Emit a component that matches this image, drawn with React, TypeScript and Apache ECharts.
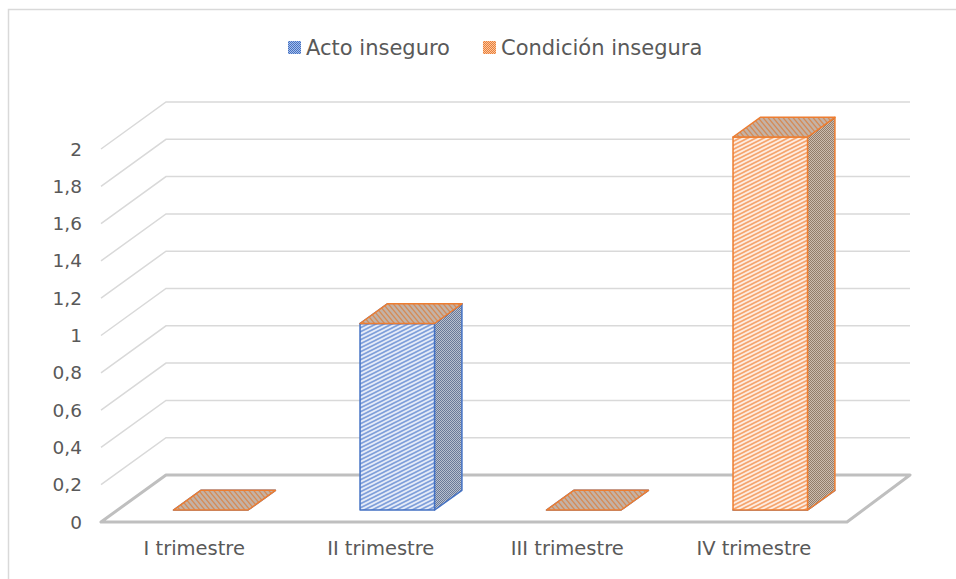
import React, { useEffect, useRef } from "react";
import * as echarts from "echarts";

const categories = ["I trimestre", "II trimestre", "III trimestre", "IV trimestre"];
const seriesNames = ["Acto inseguro", "Condición insegura"];
const actoInseguro = [0, 1, 0, 0];
const condicionInsegura = [0, 0, 0, 2];
const yTicks = [0, 0.2, 0.4, 0.6, 0.8, 1, 1.2, 1.4, 1.6, 1.8, 2];

const FONT = "'DejaVu Sans', sans-serif";
const DX = 65;
const DY = -47;
const F0 = 0.255;
const F1 = 0.675;
const HALF = 0.2;

function stripePattern(bg: string, fg: string, w: number, h: number, dir: number, lw: number) {
  const c = document.createElement("canvas");
  c.width = w;
  c.height = h;
  const ctx = c.getContext("2d")!;
  ctx.fillStyle = bg;
  ctx.fillRect(0, 0, w, h);
  ctx.strokeStyle = fg;
  ctx.lineWidth = lw;
  for (const off of [-h, 0, h]) {
    ctx.beginPath();
    if (dir > 0) {
      ctx.moveTo(-w, 2 * h + off);
      ctx.lineTo(2 * w, -h + off);
    } else {
      ctx.moveTo(-w, -h + off);
      ctx.lineTo(2 * w, 2 * h + off);
    }
    ctx.stroke();
  }
  return { image: c.toDataURL(), repeat: "repeat", imageWidth: w, imageHeight: h } as any;
}

function dotPattern(a: string, b: string) {
  const c = document.createElement("canvas");
  c.width = 2;
  c.height = 2;
  const ctx = c.getContext("2d")!;
  ctx.fillStyle = a;
  ctx.fillRect(0, 0, 2, 2);
  ctx.fillStyle = b;
  ctx.fillRect(0, 0, 1, 1);
  ctx.fillRect(1, 1, 1, 1);
  return { image: c.toDataURL(), repeat: "repeat", imageWidth: 2, imageHeight: 2 } as any;
}

export default function App() {
  const ref = useRef<HTMLDivElement>(null);

  useEffect(() => {
    if (!ref.current) return;
    const chart = echarts.init(ref.current, null, { renderer: "svg" });

    const styles = [
      {
        stroke: "#4472c4",
        front: stripePattern("#e6ecf8", "#7f9fda", 8, 4, 1, 1.7),
        side: dotPattern("#b8c0cf", "#6a7a98"),
        top: stripePattern("#c4b2a6", "#d58a55", 5, 6, -1, 1.3),
        legend: dotPattern("#4472c4", "#a9bfe8"),
      },
      {
        stroke: "#ed7d31",
        front: stripePattern("#fdede2", "#f5a46e", 8, 4, 1, 1.7),
        side: dotPattern("#cdbcaf", "#927d6b"),
        top: stripePattern("#c4b2a6", "#d58a55", 5, 6, -1, 1.3),
        legend: dotPattern("#ed7d31", "#f8c8a6"),
      },
    ];

    const values = [actoInseguro, condicionInsegura];
    const barData = values.map((arr, s) =>
      arr.map((v, i) => {
        let base = 0;
        for (let k = 0; k < s; k++) base += values[k][i];
        return [i, v, base];
      })
    );

    const makeBarRender = (s: number) => (params: any, api: any) => {
      const cat = api.value(0);
      const val = api.value(1);
      const base = api.value(2);
      const c0 = api.coord([cat, base]);
      const c1 = api.coord([cat, base + val]);
      const bw = api.size([1, 0])[0];
      const x0 = c0[0] - HALF * bw + F0 * DX;
      const x1 = c0[0] + HALF * bw + F0 * DX;
      const yb = c0[1] + F0 * DY;
      const yt = c1[1] + F0 * DY;
      const ddx = (F1 - F0) * DX;
      const ddy = (F1 - F0) * DY;
      const st = styles[s];
      const children: any[] = [];
      if (val > 0) {
        children.push({
          type: "polygon",
          shape: { points: [[x0, yb], [x1, yb], [x1, yt], [x0, yt]] },
          style: { fill: st.front, stroke: st.stroke, lineWidth: 1.5, lineJoin: "round" },
        });
        children.push({
          type: "polygon",
          shape: { points: [[x1, yb], [x1 + ddx, yb + ddy], [x1 + ddx, yt + ddy], [x1, yt]] },
          style: { fill: st.side, stroke: st.stroke, lineWidth: 1.5, lineJoin: "round" },
        });
      }
      children.push({
        type: "polygon",
        shape: { points: [[x0, yt], [x1, yt], [x1 + ddx, yt + ddy], [x0 + ddx, yt + ddy]] },
        style: { fill: st.top, stroke: st.stroke, lineWidth: 1.5, lineJoin: "round" },
      });
      return { type: "group", children };
    };

    const gridRender = (params: any, api: any) => {
      const v = api.value(1);
      const y = api.coord([0, v])[1];
      const left = params.coordSys.x;
      const right = params.coordSys.x + params.coordSys.width;
      const backRight = right + DX - 2;
      if (v === 0) {
        return {
          type: "polygon",
          shape: { points: [[left, y], [right, y], [backRight, y + DY], [left + DX, y + DY]] },
          style: { fill: "none", stroke: "#bfbfbf", lineWidth: 3, lineJoin: "round" },
        };
      }
      return {
        type: "polyline",
        shape: { points: [[left, y], [left + DX, y + DY], [backRight, y + DY]] },
        style: { fill: "none", stroke: "#d9d9d9", lineWidth: 1.5 },
      };
    };

    const option: any = {
      animation: false,
      backgroundColor: "#ffffff",
      textStyle: { fontFamily: FONT },
      graphic: [
        {
          type: "rect",
          silent: true,
          shape: { x: 8.5, y: 9.5, width: 1200, height: 1200 },
          style: { fill: "none", stroke: "#d9d9d9", lineWidth: 1.5 },
        },
      ],
      legend: {
        left: 283,
        top: 32,
        itemWidth: 13,
        itemHeight: 13,
        itemGap: 33,
        icon: "rect",
        textStyle: { fontSize: 21, color: "#595959", fontFamily: FONT },
        data: seriesNames.map((n, s) => ({ name: n, itemStyle: { color: styles[s].legend } })),
      },
      grid: { left: 101, right: 109, top: 149, bottom: 57 },
      xAxis: {
        type: "category",
        data: categories,
        axisLine: { show: false },
        axisTick: { show: false },
        splitLine: { show: false },
        axisLabel: { fontSize: 19.5, color: "#595959", margin: 16, fontFamily: FONT },
      },
      yAxis: {
        type: "value",
        min: 0,
        max: 2,
        interval: 0.2,
        axisLine: { show: false },
        axisTick: { show: false },
        splitLine: { show: false },
        axisLabel: {
          fontSize: 18.5,
          color: "#595959",
          margin: 19,
          fontFamily: FONT,
          formatter: (v: number) => String(Math.round(v * 10) / 10).replace(".", ","),
        },
      },
      series: [
        {
          type: "custom",
          name: "grid3d",
          silent: true,
          z: 1,
          clip: false,
          renderItem: gridRender,
          data: yTicks.map((v) => [0, v]),
          encode: { x: 0, y: 1 },
        },
        ...seriesNames.map((n, s) => ({
          type: "custom",
          name: n,
          z: 2 + s,
          clip: false,
          itemStyle: { color: styles[s].stroke },
          renderItem: makeBarRender(s),
          data: barData[s],
          encode: { x: 0, y: 1 },
        })),
      ],
    };

    chart.setOption(option);
    return () => chart.dispose();
  }, []);

  return (
    <div
      ref={ref}
      style={{ position: "absolute", left: 0, top: 0, width: 956, height: 579, background: "#fff" }}
    />
  );
}
